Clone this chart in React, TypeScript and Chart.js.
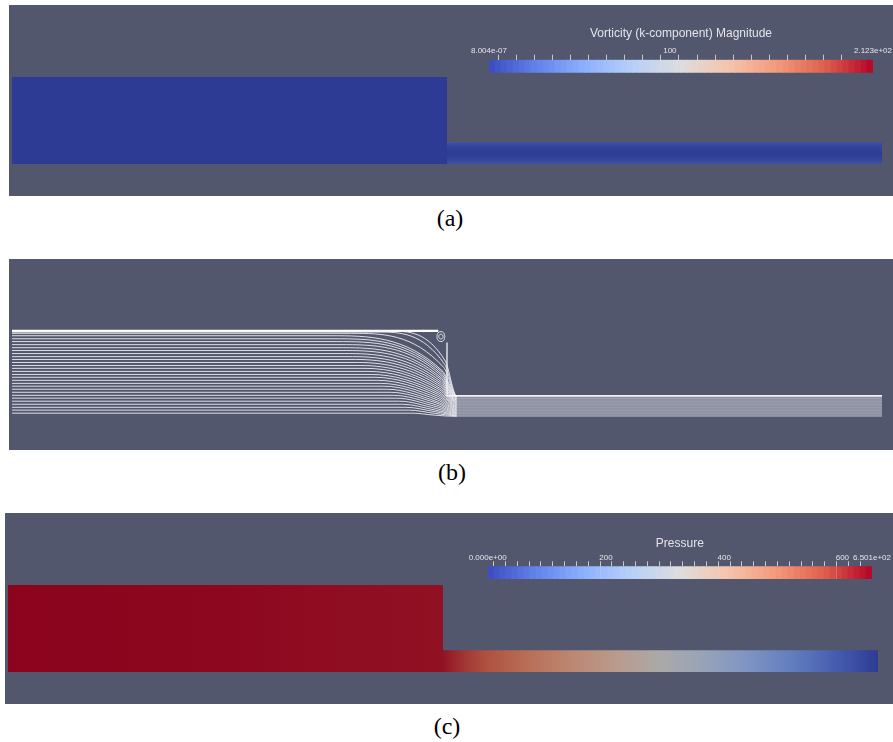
import React, { useEffect, useRef } from 'react';
import { Chart, registerables } from 'chart.js';

Chart.register(...registerables);
Chart.defaults.font.family = "'Liberation Sans', Arial, Helvetica, sans-serif";

// ---------- geometry of the 4:1 contraction (unit = downstream channel height) ----------
const upstreamX = [-20, -20, 0, 0];
const upstreamY = [0, 4, 4, 0];
const channelX = [0, 0, 20, 20];
const channelY = [0, 1, 1, 0];
const glowX = [-1.6, -1.6, 0, 0, 1.2, 1.2];
const glowY = [0, 2.4, 2.4, 1, 1, 0];

// ---------- colour map (Cool to Warm) ----------
const coolWarmPos = [0, 0.125, 0.25, 0.375, 0.5, 0.625, 0.75, 0.875, 1];
const coolWarmRGB = [
  [59, 76, 192], [98, 130, 234], [141, 176, 254], [184, 208, 249], [221, 221, 221],
  [245, 196, 173], [244, 154, 123], [222, 96, 77], [180, 4, 38],
];
const colorBands = 64;
const fieldShade = 0.77;
const panelBg = '#52576e';

// ---------- (a) vorticity ----------
const vortRange = [0, 212.3];
const vortTicks = [10, 20, 30, 40, 50, 60, 70, 80, 90, 100, 110, 120, 130, 140, 150, 160, 170, 180, 190, 200];
const vortLabelValues = [0, 100, 212.3];
const vortLabelTexts = ['8.004e-07', '100', '2.123e+02'];
const vortMajor = [100];
const upstreamVort = 0.5;
const channelVortY = [0, 0.15, 0.35, 0.5, 0.65, 0.85, 1];
const channelVort = [15, 8, 3, 1, 3, 8, 15];
const cornerVort = 45;

// ---------- (c) pressure ----------
const presRange = [0, 650.1];
const presTicks = [20, 40, 60, 80, 100, 120, 140, 160, 180, 200, 220, 240, 260, 280, 300, 320, 340, 360, 380, 400, 420, 440, 460, 480, 500, 520, 540, 560, 580, 600, 620, 640];
const presLabelValues = [0, 200, 400, 600, 650.1];
const presLabelTexts = ['0.000e+00', '200', '400', '600', '6.501e+02'];
const presMajor = [200, 400, 600];
const upstreamPresX = [-20, -10, 0];
const upstreamPres = [650, 645, 634];
const channelPresX = [0, 1, 2, 4, 6, 8, 10, 12, 14, 16, 18, 20];
const channelPres = [632, 592, 556, 500, 445, 390, 330, 270, 205, 140, 70, 0];
const junctionPres = 600;

// ---------- (b) streamlines ----------
const streamInlet = [3.97, 3.93, 3.87, 3.76, 3.62, 3.49, 3.35, 3.21, 3.08, 2.94, 2.80, 2.67, 2.53, 2.39, 2.26, 2.12, 1.98, 1.85, 1.71, 1.57, 1.44, 1.30, 1.16, 1.02, 0.89, 0.75, 0.61, 0.47, 0.34, 0.20];
const streamBendX = [-2.6, -3.2, -4.4, -5.35, -5.20, -5.06, -4.92, -4.77, -4.63, -4.49, -4.34, -4.20, -4.06, -3.91, -3.77, -3.63, -3.48, -3.34, -3.20, -3.05, -2.91, -2.77, -2.62, -2.47, -2.33, -2.19, -2.04, -1.89, -1.76, -1.61];
const streamKneeX = [-0.08, -0.11, -0.15, -0.19, -0.20, -0.22, -0.23, -0.25, -0.26, -0.28, -0.29, -0.31, -0.32, -0.34, -0.35, -0.37, -0.38, -0.40, -0.41, -0.43, -0.44, -0.46, -0.47, -0.49, -0.50, -0.52, -0.53, -0.55, -0.56, -0.58];
const streamKneeY = [2.60, 2.45, 2.30, 2.12, 2.05, 1.97, 1.89, 1.81, 1.74, 1.66, 1.58, 1.51, 1.43, 1.35, 1.28, 1.20, 1.12, 1.05, 0.97, 0.89, 0.81, 0.73, 0.66, 0.58, 0.50, 0.42, 0.34, 0.27, 0.19, 0.11];
const streamOutlet = [0.99, 0.98, 0.965, 0.94, 0.905, 0.873, 0.838, 0.803, 0.77, 0.735, 0.70, 0.668, 0.633, 0.598, 0.565, 0.53, 0.495, 0.463, 0.428, 0.393, 0.36, 0.325, 0.29, 0.255, 0.223, 0.188, 0.153, 0.118, 0.085, 0.05];
const streamExitX = 0.45;
const wallTopX = [-20, -0.4];
const wallTopY = [3.98, 3.98];
const wallStepX = [0, 0, 20];
const wallStepY = [3.45, 1, 1];
const vortexOuterX = [-0.10, -0.15, -0.28, -0.41, -0.46, -0.41, -0.28, -0.15, -0.10];
const vortexOuterY = [3.72, 3.89, 3.95, 3.89, 3.72, 3.55, 3.49, 3.55, 3.72];
const vortexInnerX = [-0.18, -0.21, -0.28, -0.35, -0.38, -0.35, -0.28, -0.21, -0.18];
const vortexInnerY = [3.72, 3.80, 3.83, 3.80, 3.72, 3.64, 3.61, 3.64, 3.72];

// ---------- helpers ----------
function coolWarm(t: number): number[] {
  const v = Math.max(0, Math.min(1, t));
  for (let i = 1; i < coolWarmPos.length; i++) {
    if (v <= coolWarmPos[i]) {
      const f = (v - coolWarmPos[i - 1]) / (coolWarmPos[i] - coolWarmPos[i - 1]);
      return coolWarmRGB[i - 1].map((c, k) => c + (coolWarmRGB[i][k] - c) * f);
    }
  }
  return coolWarmRGB[coolWarmRGB.length - 1];
}
function rgb(c: number[], shade = 1, alpha = 1) {
  return `rgba(${Math.round(c[0] * shade)},${Math.round(c[1] * shade)},${Math.round(c[2] * shade)},${alpha})`;
}
function pts(xs: number[], ys: number[]) {
  return xs.map((x, i) => ({ x, y: ys[i] }));
}
function linearFill(axis: 'x' | 'y', stops: number[], colors: string[]) {
  return (ctx: any) => {
    const chart = ctx.chart;
    if (!chart.chartArea) return colors[0];
    const sc = chart.scales[axis];
    const p0 = sc.getPixelForValue(stops[0]);
    const p1 = sc.getPixelForValue(stops[stops.length - 1]);
    const g = axis === 'x' ? chart.ctx.createLinearGradient(p0, 0, p1, 0) : chart.ctx.createLinearGradient(0, p0, 0, p1);
    const span = stops[stops.length - 1] - stops[0];
    stops.forEach((s, i) => g.addColorStop((s - stops[0]) / span, colors[i]));
    return g;
  };
}
function radialFill(cx: number, cy: number, r: number, offsets: number[], colors: string[]) {
  return (ctx: any) => {
    const chart = ctx.chart;
    if (!chart.chartArea) return colors[colors.length - 1];
    const sx = chart.scales.x, sy = chart.scales.y;
    const px = sx.getPixelForValue(cx), py = sy.getPixelForValue(cy);
    const pr = Math.abs(sx.getPixelForValue(cx + r) - px);
    const g = chart.ctx.createRadialGradient(px, py, 0, px, py, pr);
    offsets.forEach((o, i) => g.addColorStop(o, colors[i]));
    return g;
  };
}
function polygon(xs: number[], ys: number[], bg: any) {
  return { data: pts(xs, ys), fill: 'shape', backgroundColor: bg, borderWidth: 0, borderColor: 'rgba(0,0,0,0)', pointRadius: 0, tension: 0 };
}
function fieldConfig(datasets: any[], xmin: number, xmax: number, ymin: number, ymax: number) {
  return {
    type: 'line',
    data: { datasets },
    options: {
      responsive: false, animation: false, events: [],
      layout: { padding: 0 },
      plugins: { legend: { display: false }, tooltip: { enabled: false }, title: { display: false } },
      scales: {
        x: { type: 'linear', display: false, min: xmin, max: xmax },
        y: { type: 'linear', display: false, min: ymin, max: ymax },
      },
      elements: { point: { radius: 0 } },
    },
  };
}

function makeVorticity() {
  const vmax = vortRange[1];
  const up = rgb(coolWarm(upstreamVort / vmax), fieldShade);
  const chColors = channelVort.map((v) => rgb(coolWarm(v / vmax), fieldShade));
  const cc = coolWarm(cornerVort / vmax);
  return fieldConfig([
    polygon(upstreamX, upstreamY, up),
    polygon(channelX, channelY, linearFill('y', channelVortY, chColors)),
    polygon(glowX, glowY, radialFill(0, 1, 1.1, [0, 0.15, 0.5, 1], [rgb(cc, fieldShade, 0.9), rgb(cc, fieldShade, 0.45), rgb(cc, fieldShade, 0.12), rgb(cc, fieldShade, 0)])),
  ], -20.138, 20.506, -1.471, 7.31);
}

function makeStreamlines() {
  const color = 'rgba(244,244,248,0.86)';
  const channelColor = 'rgba(236,238,244,0.36)';
  const sets: any[] = streamInlet.map((h, i) => ({
    data: [
      { x: upstreamX[0], y: h },
      { x: streamBendX[i], y: h },
      { x: streamKneeX[i], y: streamKneeY[i] },
      { x: streamExitX, y: streamOutlet[i] },
      { x: channelX[2], y: streamOutlet[i] },
    ],
    borderColor: color, borderWidth: 1, fill: false, pointRadius: 0, cubicInterpolationMode: 'monotone',
    segment: { borderColor: (c: any) => (c.p0DataIndex >= 3 ? channelColor : undefined) },
  }));
  sets.push({ data: pts(wallTopX, wallTopY), borderColor: '#ffffff', borderWidth: 2.2, fill: false, pointRadius: 0, tension: 0 });
  sets.push({ data: pts(wallStepX, wallStepY), borderColor: '#f4f4f6', borderWidth: 1.3, fill: false, pointRadius: 0, tension: 0 });
  sets.push({ data: pts(vortexOuterX, vortexOuterY), borderColor: color, borderWidth: 1, fill: false, pointRadius: 0, tension: 0.4 });
  sets.push({ data: pts(vortexInnerX, vortexInnerY), borderColor: color, borderWidth: 1, fill: false, pointRadius: 0, tension: 0.4 });
  return fieldConfig(sets, -20.138, 20.506, -1.494, 7.288);
}

function makePressure() {
  const pmax = presRange[1];
  const upColors = upstreamPres.map((p) => rgb(coolWarm(p / pmax), fieldShade));
  const chColors = channelPres.map((p) => rgb(coolWarm(p / pmax), fieldShade));
  const jc = coolWarm(junctionPres / pmax);
  return fieldConfig([
    polygon(upstreamX, upstreamY, linearFill('x', upstreamPresX, upColors)),
    polygon(channelX, channelY, linearFill('x', channelPresX, chColors)),
    polygon(glowX, glowY, radialFill(0, 0.5, 1.6, [0, 0.4, 1], [rgb(jc, fieldShade, 0.5), rgb(jc, fieldShade, 0.18), rgb(jc, fieldShade, 0)])),
  ], -20.138, 20.69, -1.471, 7.31);
}

function colorBarConfig(o: any) {
  const { range, ticks, labelValues, labelTexts, major, title, pad, titlePad } = o;
  const [min, max] = range;
  const w = (max - min) / colorBands;
  const data = Array.from({ length: colorBands }, (_, i) => ({ x: min + (i + 0.5) * w, y: 1 }));
  const colors = Array.from({ length: colorBands }, (_, i) => rgb(coolWarm((i + 0.5) / colorBands)));
  const allTicks = Array.from(new Set([...labelValues, ...ticks])).sort((a: any, b: any) => a - b);
  return {
    type: 'bar',
    data: { datasets: [{ data, backgroundColor: colors, borderWidth: 0, categoryPercentage: 1, barPercentage: 1 }] },
    options: {
      responsive: false, animation: false, events: [],
      layout: { padding: pad, autoPadding: false },
      plugins: {
        legend: { display: false }, tooltip: { enabled: false },
        title: { display: true, text: title, color: '#e4e4e6', font: { size: 12, weight: 'normal' }, padding: titlePad },
      },
      scales: {
        x: {
          type: 'linear', position: 'top', min, max, offset: false,
          afterBuildTicks: (s: any) => { s.ticks = allTicks.map((v: any) => ({ value: v })); },
          grid: {
            z: 1, drawOnChartArea: true, drawTicks: true, tickLength: 5, lineWidth: 1,
            color: (c: any) => (c.tick && major.includes(c.tick.value) ? 'rgba(225,225,225,0.3)' : 'rgba(0,0,0,0)'),
            tickColor: (c: any) => (c.tick && ticks.includes(c.tick.value) ? '#c9c9cc' : 'rgba(0,0,0,0)'),
          },
          border: { display: false },
          ticks: {
            autoSkip: false, maxRotation: 0, minRotation: 0, padding: -1, color: '#e6e6e8', font: { size: 8 },
            callback: (v: any) => { const i = labelValues.indexOf(v); return i < 0 ? '' : labelTexts[i]; },
          },
        },
        y: { display: false, min: 0, max: 1 },
      },
    },
  };
}

function ChartCanvas({ left, top, width, height, background, make }: any) {
  const ref = useRef<HTMLCanvasElement>(null);
  useEffect(() => {
    const chart = new Chart(ref.current as HTMLCanvasElement, make());
    return () => chart.destroy();
  }, []);
  return (
    <canvas
      ref={ref}
      width={width}
      height={height}
      style={{ position: 'absolute', left, top, width, height, background: background || 'transparent', display: 'block' }}
    />
  );
}

function Caption({ x, y, text }: any) {
  return (
    <div style={{ position: 'absolute', left: x, top: y, transform: 'translate(-50%, -50%)', fontFamily: "'Liberation Serif', 'DejaVu Serif', serif", fontSize: 24, lineHeight: 1, color: '#000', whiteSpace: 'nowrap' }}>
      {text}
    </div>
  );
}

export default function App() {
  return (
    <div style={{ position: 'relative', width: 893, height: 742, background: '#ffffff', overflow: 'hidden' }}>
      <style>{'html,body{margin:0;padding:0;overflow:hidden;background:#fff}'}</style>
      <ChartCanvas left={9} top={5} width={884} height={191} background={panelBg} make={makeVorticity} />
      <ChartCanvas left={440} top={15} width={453} height={70} make={() => colorBarConfig({
        range: vortRange, ticks: vortTicks, labelValues: vortLabelValues, labelTexts: vortLabelTexts, major: vortMajor,
        title: 'Vorticity (k-component) Magnitude',
        pad: { left: 49, right: 20, top: 0, bottom: 12.3 }, titlePad: { top: 11.8, bottom: 5.9 },
      })} />
      <Caption x={450} y={218} text="(a)" />
      <ChartCanvas left={9} top={259} width={884} height={191} background={panelBg} make={makeStreamlines} />
      <Caption x={452} y={472} text="(b)" />
      <ChartCanvas left={5} top={513} width={888} height={191} background={panelBg} make={makePressure} />
      <ChartCanvas left={440} top={525} width={453} height={70} make={() => colorBarConfig({
        range: presRange, ticks: presTicks, labelValues: presLabelValues, labelTexts: presLabelTexts, major: presMajor,
        title: 'Pressure',
        pad: { left: 47.7, right: 21, top: 0, bottom: 16 }, titlePad: { top: 11.8, bottom: 2.5 },
      })} />
      <Caption x={447} y={726} text="(c)" />
    </div>
  );
}
